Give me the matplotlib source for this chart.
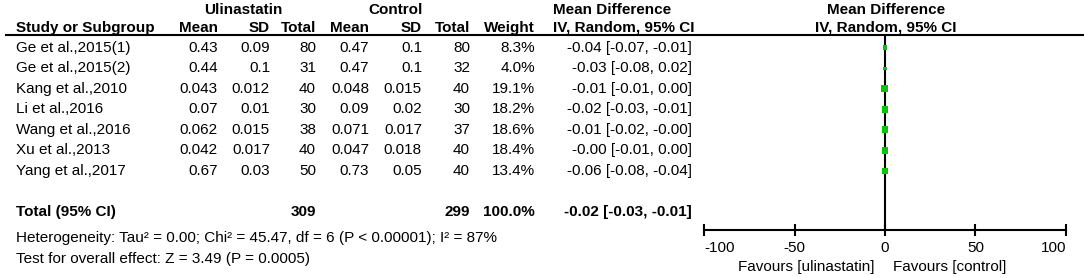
import matplotlib
matplotlib.use("Agg")
import matplotlib.pyplot as plt
import numpy as np

plt.rcParams['font.family'] = ['Liberation Sans', 'DejaVu Sans']

# ---- data ----
studies = ["Ge et al.,2015(1)", "Ge et al.,2015(2)", "Kang et al.,2010", "Li et al.,2016",
           "Wang et al.,2016", "Xu et al.,2013", "Yang et al.,2017"]
u_mean = [0.43, 0.44, 0.043, 0.07, 0.062, 0.042, 0.67]
u_sd = [0.09, 0.1, 0.012, 0.01, 0.015, 0.017, 0.03]
u_n = [80, 31, 40, 30, 38, 40, 50]
c_mean = [0.47, 0.47, 0.048, 0.09, 0.071, 0.047, 0.73]
c_sd = [0.1, 0.1, 0.015, 0.02, 0.017, 0.018, 0.05]
c_n = [80, 32, 40, 30, 37, 40, 40]
weights = [8.3, 4.0, 19.1, 18.2, 18.6, 18.4, 13.4]
md = [-0.04, -0.03, -0.01, -0.02, -0.01, -0.004, -0.06]
ci_lo = [-0.07, -0.08, -0.01, -0.03, -0.02, -0.01, -0.08]
ci_hi = [-0.01, 0.02, 0.00, -0.01, -0.00, 0.00, -0.04]
total_md, total_lo, total_hi = -0.02, -0.03, -0.01
x_ticks = [-100, -50, 0, 50, 100]
heterogeneity = "Heterogeneity: Tau\u00b2 = 0.00; Chi\u00b2 = 45.47, df = 6 (P < 0.00001); I\u00b2 = 87%"
overall = "Test for overall effect: Z = 3.49 (P = 0.0005)"

# ---- layout ----
W, H = 1084, 278
fig = plt.figure(figsize=(W / 100, H / 100), dpi=100)
ax = fig.add_axes([0, 0, 1, 1])
ax.set_xlim(0, W)
ax.set_ylim(H, 0)
ax.axis('off')

y0, dy = 47.7, 20.55
def ypix(i):
    return y0 + dy * i

fs = 11
green = '#00c800'
line_y = 35
axis_y = 230

# headers
ax.text(243, 10, "Ulinastatin", ha='center', va='center', fontsize=fs, fontweight='bold')
ax.text(396, 10, "Control", ha='center', va='center', fontsize=fs, fontweight='bold')
ax.text(553, 10, "Mean Difference", ha='left', va='center', fontsize=fs, fontweight='bold')
ax.text(886, 10, "Mean Difference", ha='center', va='center', fontsize=fs, fontweight='bold')
hy = 28
ax.text(16, hy, "Study or Subgroup", ha='left', va='center', fontsize=fs, fontweight='bold')
cols = [(218, "Mean"), (270, "SD"), (316, "Total"), (369, "Mean"), (422, "SD"), (470, "Total"), (535, "Weight")]
for x, t in cols:
    ax.text(x, hy, t, ha='right', va='center', fontsize=fs, fontweight='bold')
ax.text(553, hy, "IV, Random, 95% CI", ha='left', va='center', fontsize=fs, fontweight='bold')
ax.text(886, hy, "IV, Random, 95% CI", ha='center', va='center', fontsize=fs, fontweight='bold')
ax.plot([5, W], [line_y, line_y], color='black', lw=1.5, solid_capstyle='butt')

# rows
for i, s in enumerate(studies):
    y = ypix(i)
    ax.text(16, y, s, ha='left', va='center', fontsize=fs)
    vals = [str(u_mean[i]), str(u_sd[i]), str(u_n[i]), str(c_mean[i]), str(c_sd[i]), str(c_n[i]),
            f"{weights[i]:.1f}%"]
    for (x, _), v in zip(cols, vals):
        ax.text(x, y, v, ha='right', va='center', fontsize=fs)
    ax.text(692, y, f"{md[i]:.2f} [{ci_lo[i]:.2f}, {ci_hi[i]:.2f}]", ha='right', va='center', fontsize=fs)

ti = 8
yt = ypix(ti)
ax.text(16, yt, "Total (95% CI)", ha='left', va='center', fontsize=fs, fontweight='bold')
ax.text(316, yt, str(sum(u_n)), ha='right', va='center', fontsize=fs, fontweight='bold')
ax.text(470, yt, str(sum(c_n)), ha='right', va='center', fontsize=fs, fontweight='bold')
ax.text(535, yt, f"{sum(weights):.1f}%", ha='right', va='center', fontsize=fs, fontweight='bold')
ax.text(692, yt, f"{total_md:.2f} [{total_lo:.2f}, {total_hi:.2f}]", ha='right', va='center',
        fontsize=fs, fontweight='bold')
ax.text(16, 238, heterogeneity, ha='left', va='center', fontsize=fs)
ax.text(16, 259, overall, ha='left', va='center', fontsize=fs)

# forest axes
x_left, x_right = 704, 1066
fa = fig.add_axes([x_left / W, 1 - axis_y / H, (x_right - x_left) / W, (axis_y - line_y) / H])
fa.set_xlim(x_ticks[0], x_ticks[-1])
fa.set_ylim((axis_y - y0) / dy, (line_y - y0) / dy)
fa.patch.set_visible(False)
for sp in ['top', 'right', 'left']:
    fa.spines[sp].set_visible(False)
fa.spines['bottom'].set_linewidth(1.5)
fa.set_yticks([])
fa.set_xticks(x_ticks)
fa.set_xticklabels([str(t) for t in x_ticks], fontsize=fs)
fa.tick_params(axis='x', direction='inout', length=8, width=1.5, pad=4)
labs = fa.get_xticklabels()
labs[0].set_horizontalalignment('left')
labs[-1].set_horizontalalignment('right')
fa.axvline(0, color='black', lw=1.5, zorder=1)

rows = np.arange(len(studies))
fa.hlines(rows, ci_lo, ci_hi, color='black', lw=1, zorder=2)
sizes = [(1.15 * np.sqrt(w)) ** 2 for w in weights]
fa.scatter(md, rows, s=sizes, marker='s', color=green, linewidths=0, zorder=3)
fa.fill([total_lo, total_md, total_hi, total_md], [ti, ti - 0.3, ti, ti + 0.3], color='black', lw=0)

ax.text(875, 267, "Favours [ulinastatin]", ha='right', va='center', fontsize=fs)
ax.text(893, 267, "Favours [control]", ha='left', va='center', fontsize=fs)

fig.savefig("out.png", dpi=100)
